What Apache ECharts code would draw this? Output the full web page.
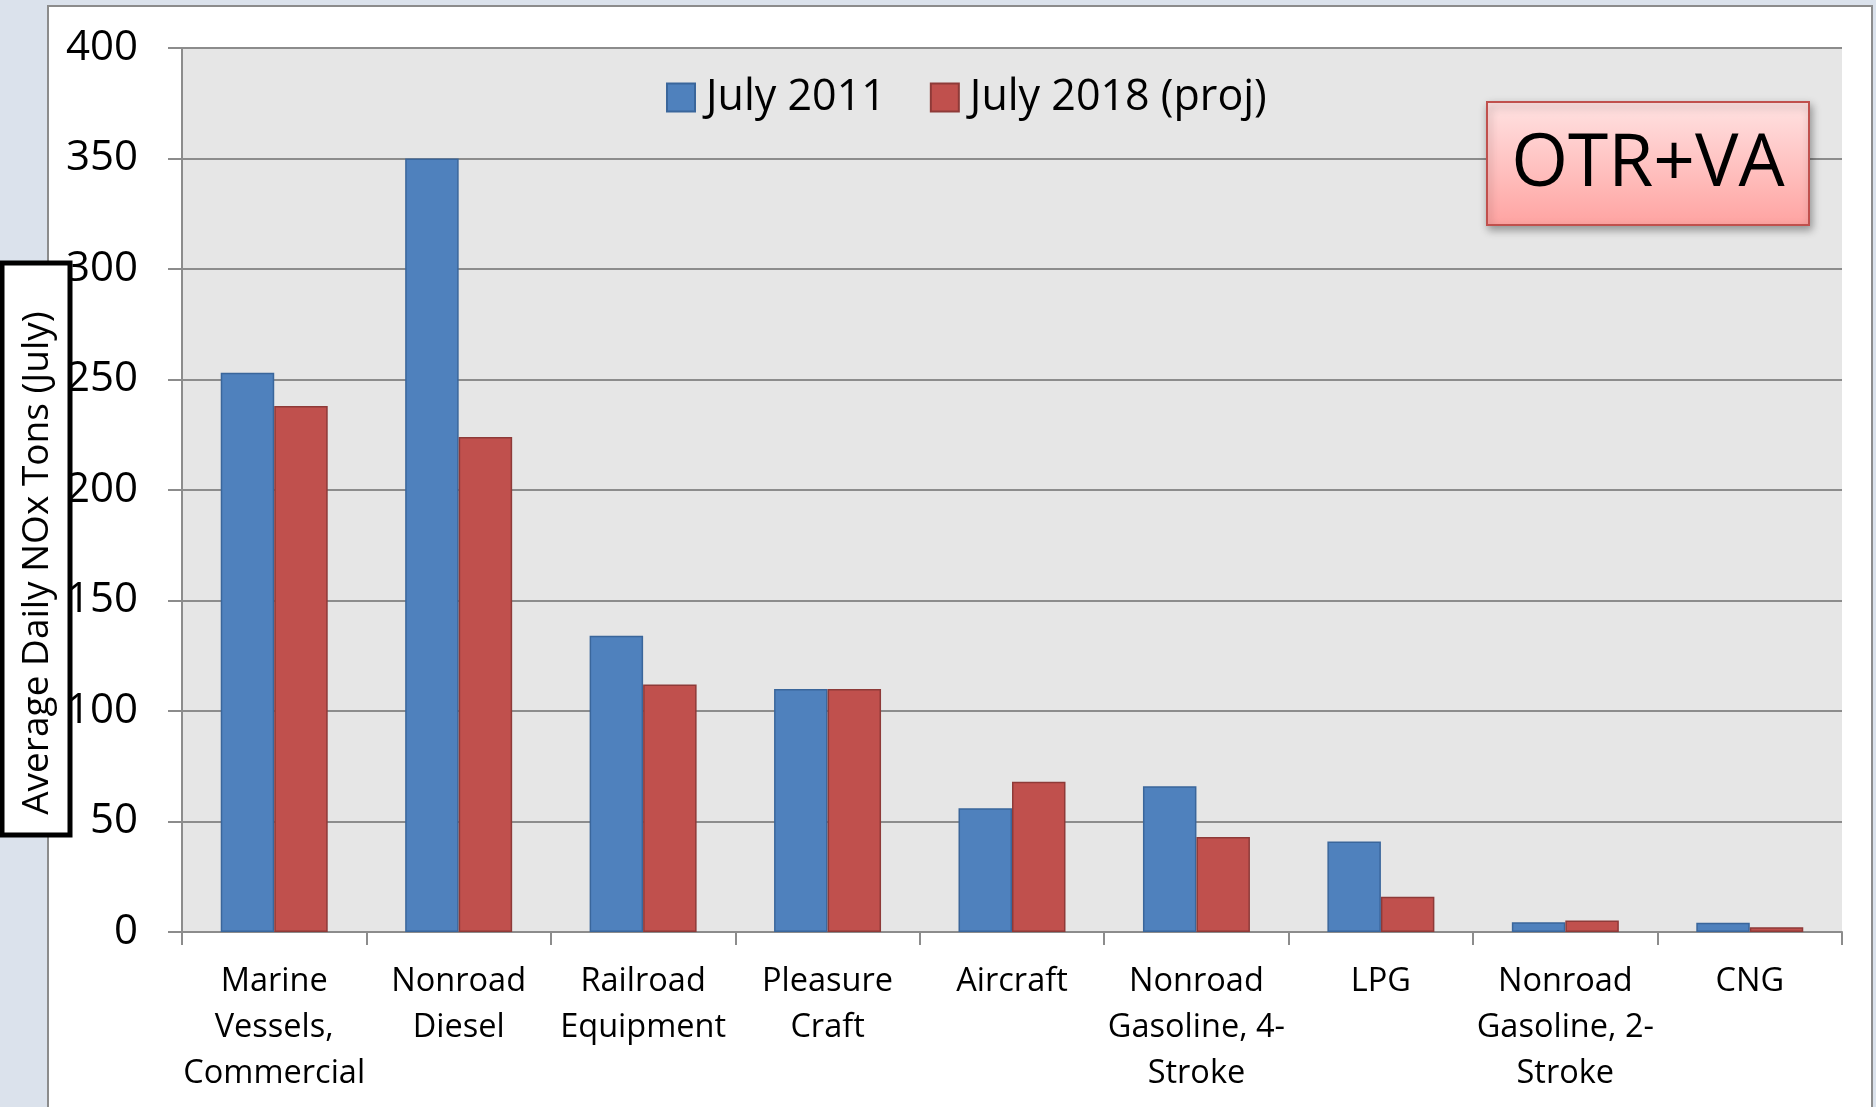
<!DOCTYPE html>
<html>
<head>
<meta charset="utf-8">
<script src="https://cdn.jsdelivr.net/npm/echarts@6/dist/echarts.min.js"></script>
<style>
  html, body { margin: 0; padding: 0; background: #dbe2ec; }
  /* white slide frame behind the chart */
  #frame {
    position: absolute; left: 47px; top: 5px; width: 1822px; height: 1120px;
    background: #fff; border: 2px solid #8c8c8c;
  }
  #chart { position: absolute; left: 0; top: 0; width: 1876px; height: 1107px; }
</style>
</head>
<body>
<div id="frame"></div>
<div id="chart"></div>
<script>
// categories (line breaks as in the picture)
var categories = [
  "Marine\nVessels,\nCommercial",
  "Nonroad\nDiesel",
  "Railroad\nEquipment",
  "Pleasure\nCraft",
  "Aircraft",
  "Nonroad\nGasoline, 4-\nStroke",
  "LPG",
  "Nonroad\nGasoline, 2-\nStroke",
  "CNG"
];
var july2011 = [253, 350, 134, 110, 56, 66, 41, 4.4, 4.2];
var july2018 = [238, 224, 112, 110, 68, 43, 16, 5.2, 2.1];
var seriesNames = ["July 2011", "July 2018 (proj)"];
var yTicks = { min: 0, max: 400, interval: 50 };

var font = "'Open Sans', 'Noto Sans', sans-serif";
var chart = echarts.init(document.getElementById("chart"));

chart.setOption({
  animation: false,
  textStyle: { fontFamily: font, color: "#000" },
  grid: {
    left: 182, top: 48, right: 34, bottom: 175,
    show: true, backgroundColor: "#e6e6e6", borderWidth: 0
  },
  legend: {
    data: seriesNames,
    left: 661, top: 71,
    icon: "rect", itemWidth: 28, itemHeight: 28, itemGap: 44,
    textStyle: { fontSize: 43, fontFamily: font, color: "#000", padding: [0, 0, 0, 6] }
  },
  xAxis: {
    type: "category",
    data: categories,
    axisLine: { lineStyle: { color: "#8c8c8c", width: 2 } },
    axisTick: { show: true, length: 13, lineStyle: { color: "#8c8c8c", width: 2 } },
    axisLabel: {
      interval: 0, margin: 27, fontSize: 32.5, lineHeight: 46,
      color: "#000", fontFamily: font, align: "center"
    }
  },
  yAxis: {
    type: "value",
    min: yTicks.min, max: yTicks.max, interval: yTicks.interval,
    axisLine: { show: true, lineStyle: { color: "#8c8c8c", width: 2 } },
    axisTick: { show: true, length: 14, lineStyle: { color: "#8c8c8c", width: 2 } },
    axisLabel: { fontSize: 42, margin: 44, color: "#000", fontFamily: font },
    splitLine: { lineStyle: { color: "#8c8c8c", width: 2 } }
  },
  series: [
    {
      name: seriesNames[0], type: "bar", data: july2011,
      barGap: "0%", barCategoryGap: "42%",
      itemStyle: { color: "#4f81bd", borderColor: "#3a669b", borderWidth: 1.5 }
    },
    {
      name: seriesNames[1], type: "bar", data: july2018,
      itemStyle: { color: "#c0504d", borderColor: "#8e3a38", borderWidth: 1.5 }
    }
  ],
  graphic: [
    // y axis title box
    {
      type: "rect", z: 100,
      shape: { x: 2, y: 263, width: 68, height: 572 },
      style: { fill: "#fff", stroke: "#000", lineWidth: 5 }
    },
    {
      type: "text", z: 101,
      x: 37, y: 563, rotation: Math.PI / 2,
      style: {
        text: "Average Daily NOx Tons (July)",
        font: "37px " + font, fill: "#000",
        align: "center", verticalAlign: "middle"
      }
    },
    // OTR+VA label box
    {
      type: "rect", z: 100,
      shape: { x: 1487, y: 102, width: 322, height: 123 },
      style: {
        fill: new echarts.graphic.LinearGradient(0, 0, 0, 1, [
          { offset: 0, color: "#ffe3e3" },
          { offset: 1, color: "#ffa3a1" }
        ]),
        stroke: "#c0504d", lineWidth: 2,
        shadowBlur: 8, shadowOffsetX: 2, shadowOffsetY: 4, shadowColor: "rgba(0,0,0,0.35)"
      }
    },
    {
      type: "text", z: 101,
      x: 1648, y: 165,
      style: {
        text: "OTR+VA", font: "73px " + font, fill: "#000",
        align: "center", verticalAlign: "middle"
      }
    }
  ]
});
</script>
</body>
</html>
